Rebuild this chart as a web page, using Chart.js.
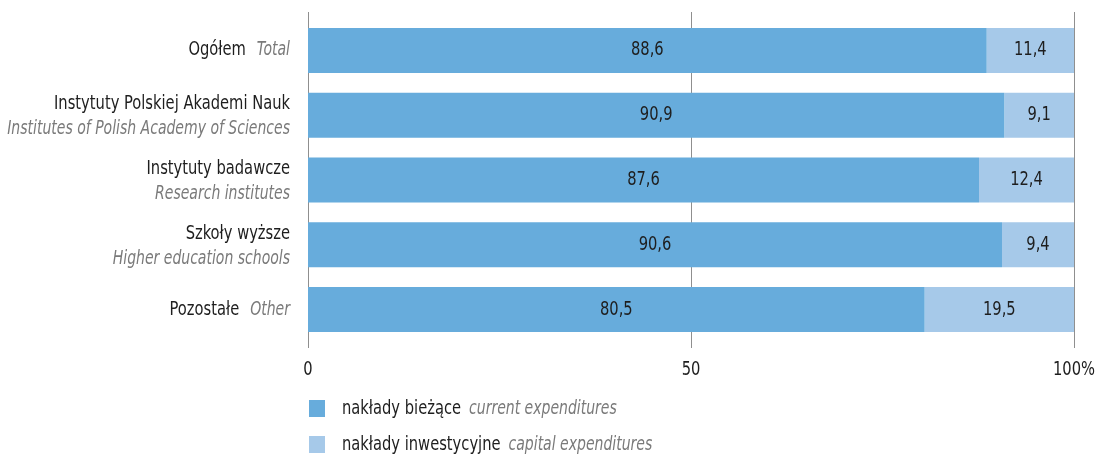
<!DOCTYPE html>
<html>
<head>
<meta charset="utf-8">
<script src="https://cdn.jsdelivr.net/npm/chart.js@4.4.1/dist/chart.umd.min.js"></script>
<style>
  html, body { margin: 0; padding: 0; background: #fff; overflow: hidden; }
  canvas { display: block; }
</style>
</head>
<body>
<canvas id="chart" width="1095" height="454"></canvas>
<script>
const labelsPl = ['Ogółem', 'Instytuty Polskiej Akademi Nauk', 'Instytuty badawcze', 'Szkoły wyższe', 'Pozostałe'];
const labelsEn = ['Total', 'Institutes of Polish Academy of Sciences', 'Research institutes', 'Higher education schools', 'Other'];
const inlineLabel = [true, false, false, false, true];
const currentExp = [88.6, 90.9, 87.6, 90.6, 80.5];
const capitalExp = [11.4, 9.1, 12.4, 9.4, 19.5];
const xTicks = [0, 50, 100];
const xTickLabels = ['0', '50', '100%'];
const legendPl = ['nakłady bieżące', 'nakłady inwestycyjne'];
const legendEn = ['current expenditures', 'capital expenditures'];

const FONT = '"DejaVu Sans Condensed", "Liberation Sans Narrow", sans-serif';
const DARK = '#1e1e1e';
const GREY = '#7a7a7a';
const BLUE = '#67acdc';
const LIGHT = '#a6c9e9';
const REG = '19px ' + FONT;
const ITA = 'italic 19px ' + FONT;

// the original uses a condensed face, so text gets squeezed sideways
function squeezeFor(font) {
    return font.startsWith('italic') ? 0.82 : 0.86;
}

function squeezedText(ctx, text, x, y, align, font, color) {
    ctx.save();
    ctx.font = font;
    ctx.fillStyle = color;
    ctx.textAlign = align;
    ctx.textBaseline = 'middle';
    ctx.translate(x, y);
    ctx.scale(squeezeFor(font), 1);
    ctx.fillText(text, 0, 0);
    ctx.restore();
}

function textWidth(ctx, text, font) {
    ctx.save();
    ctx.font = font;
    const w = ctx.measureText(text).width * squeezeFor(font);
    ctx.restore();
    return w;
}

// polish part regular, english part italic grey
function drawMixed(ctx, pl, en, x, y, align, gap) {
    const wPl = textWidth(ctx, pl, REG) + gap;
    const wEn = textWidth(ctx, en, ITA);
    const start = align === 'right' ? x - wPl - wEn : x;
    squeezedText(ctx, pl, start, y, 'left', REG, DARK);
    squeezedText(ctx, en, start + wPl, y, 'left', ITA, GREY);
}

const decorPlugin = {
    id: 'decor',
    beforeDatasetsDraw(chart) {
        const { ctx, chartArea, scales } = chart;
        ctx.save();
        ctx.strokeStyle = '#8f8f8f';
        ctx.lineWidth = 1;
        xTicks.forEach(t => {
            const x = Math.round(scales.x.getPixelForValue(t)) + 0.5;
            ctx.beginPath();
            ctx.moveTo(x, chartArea.top - 6);
            ctx.lineTo(x, chartArea.bottom + 6);
            ctx.stroke();
        });
        ctx.restore();
    },
    afterDatasetsDraw(chart) {
        const { ctx, chartArea, scales } = chart;

        // values in the bars
        chart.data.datasets.forEach((ds, di) => {
            chart.getDatasetMeta(di).data.forEach((bar, i) => {
                const left = di === 0 ? scales.x.getPixelForValue(0) : scales.x.getPixelForValue(currentExp[i]);
                squeezedText(ctx, fmt(ds.data[i]), (left + bar.x) / 2, bar.y, 'center', REG, DARK);
            });
        });

        // category labels
        const lx = chartArea.left - 18;
        labelsPl.forEach((pl, i) => {
            const y = scales.y.getPixelForValue(i);
            if (inlineLabel[i]) {
                drawMixed(ctx, pl, labelsEn[i], lx, y, 'right', 11);
            } else {
                squeezedText(ctx, pl, lx, y - 11, 'right', REG, DARK);
                squeezedText(ctx, labelsEn[i], lx, y + 14, 'right', ITA, GREY);
            }
        });

        // x tick labels
        xTicks.forEach((t, i) => {
            squeezedText(ctx, xTickLabels[i], scales.x.getPixelForValue(t), chartArea.bottom + 28, 'center', REG, DARK);
        });

        // legend
        chart.data.datasets.forEach((ds, di) => {
            const y = chartArea.bottom + 66 + di * 36;
            ctx.fillStyle = ds.backgroundColor;
            ctx.fillRect(chartArea.left + 1, y - 8, 16, 17);
            drawMixed(ctx, legendPl[di], legendEn[di], chartArea.left + 34, y + 1, 'left', 8);
        });
    }
};

function fmt(v) {
    return v.toFixed(1).replace('.', ',');
}

new Chart(document.getElementById('chart'), {
    type: 'bar',
    data: {
        labels: labelsPl,
        datasets: [
            { label: legendPl[0], data: currentExp, backgroundColor: BLUE, barPercentage: 0.695, categoryPercentage: 1 },
            { label: legendPl[1], data: capitalExp, backgroundColor: LIGHT, barPercentage: 0.695, categoryPercentage: 1 }
        ]
    },
    options: {
        indexAxis: 'y',
        responsive: false,
        animation: false,
        layout: { padding: { left: 308, right: 21, top: 18, bottom: 112 } },
        plugins: {
            legend: { display: false },
            tooltip: { enabled: false }
        },
        scales: {
            x: { display: false, stacked: true, min: 0, max: 100 },
            y: { display: false, stacked: true }
        }
    },
    plugins: [decorPlugin]
});
</script>
</body>
</html>
